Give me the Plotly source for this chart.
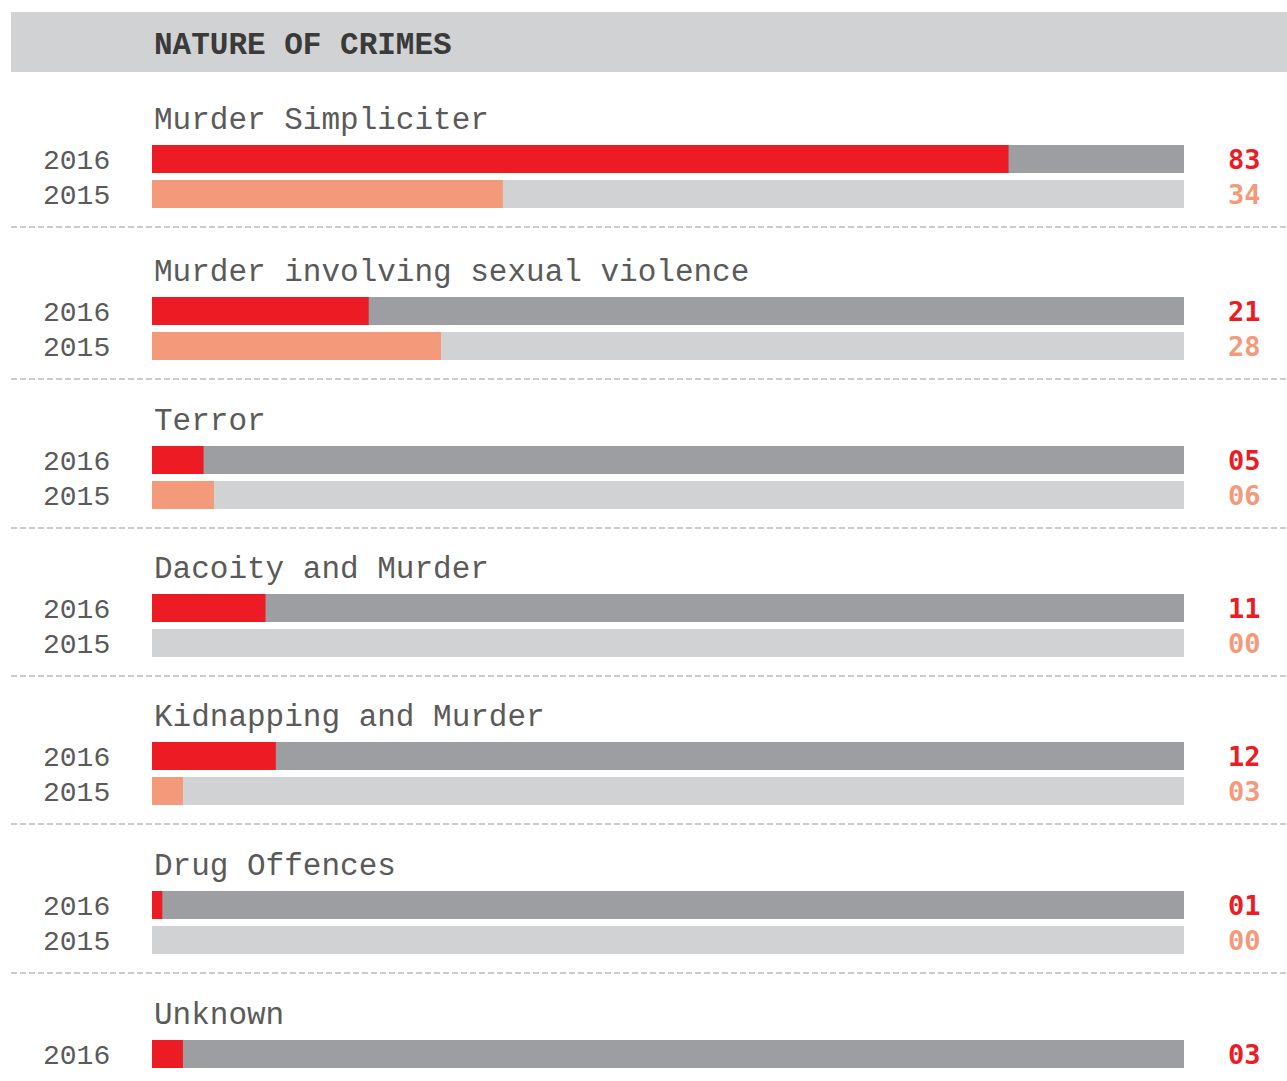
import plotly.graph_objects as go

categories = ["Murder Simpliciter", "Murder involving sexual violence", "Terror",
              "Dacoity and Murder", "Kidnapping and Murder", "Drug Offences", "Unknown"]
values_2016 = [83, 21, 5, 11, 12, 1, 3]
values_2015 = [34, 28, 6, 0, 3, 0, None]
year_labels = ["2016", "2015"]
title = "NATURE OF CRIMES"
scale_max = 100

# layout: pixel centre of each block's 2016 row
block_y = [159, 311, 460, 608, 756, 905, 1054]

W, H = 1287, 1081
X0, X1 = 152, 1184           # pixel extent of the 0..100 scale
px_per = (X1 - X0) / scale_max

RED = "#ed1c24"
SALMON = "#f4997a"
DARK = "#9d9ea2"
LIGHT = "#d1d2d4"
TXT = "#5a5a5a"
FONT = "Courier New, Liberation Mono, monospace"
NUMFONT = "DejaVu Sans Mono, monospace"
ROW_GAP = 35

fig = go.Figure()

bar_h = 28
ys_bg, xs_bg, cols_bg = [], [], []
ys_fg, xs_fg, cols_fg = [], [], []
for i, cat in enumerate(categories):
    for j, vals in enumerate([values_2016, values_2015]):
        v = vals[i]
        if v is None:
            continue
        y = block_y[i] + j * ROW_GAP
        ys_bg.append(y); xs_bg.append(scale_max); cols_bg.append(DARK if j == 0 else LIGHT)
        ys_fg.append(y); xs_fg.append(v); cols_fg.append(RED if j == 0 else SALMON)

fig.add_trace(go.Bar(x=xs_bg, y=ys_bg, orientation="h", width=bar_h,
                     marker=dict(color=cols_bg, line=dict(width=0)), hoverinfo="skip"))
fig.add_trace(go.Bar(x=xs_fg, y=ys_fg, orientation="h", width=bar_h,
                     marker=dict(color=cols_fg, line=dict(width=0)), hoverinfo="skip"))

shapes = []
annotations = []
# header band
shapes.append(dict(type="rect", xref="paper", yref="y", x0=11 / W, x1=1, y0=12, y1=72,
                   fillcolor=LIGHT, line=dict(width=0), layer="below"))
annotations.append(dict(text=f"<b>{title}</b>", xref="x", yref="y", x=0, y=45,
                        xanchor="left", yanchor="middle", showarrow=False,
                        font=dict(family=FONT, size=31, color="#3a3a3a")))

for i, cat in enumerate(categories):
    base = block_y[i]
    annotations.append(dict(text=cat, xref="x", yref="y", x=0, y=base - 39,
                            xanchor="left", yanchor="middle", showarrow=False,
                            font=dict(family=FONT, size=31, color=TXT)))
    for j, vals in enumerate([values_2016, values_2015]):
        v = vals[i]
        if v is None:
            continue
        y = base + j * ROW_GAP
        annotations.append(dict(text=year_labels[j], xref="paper", yref="y", x=41 / W, y=y + 2,
                                xanchor="left", yanchor="middle", showarrow=False,
                                font=dict(family=FONT, size=28, color=TXT)))
        annotations.append(dict(text=f"<b>{v:02d}</b>", xref="paper", yref="y", x=1244 / W, y=y,
                                xanchor="center", yanchor="middle", showarrow=False,
                                font=dict(family=NUMFONT, size=27,
                                          color=RED if j == 0 else SALMON)))
    if i < len(categories) - 1:
        shapes.append(dict(type="line", xref="paper", yref="y", x0=11 / W, x1=1,
                           y0=base + 68, y1=base + 68,
                           line=dict(color="#9a9a9a", width=1.2, dash="6px,3px")))

fig.update_layout(
    width=W, height=H,
    margin=dict(l=0, r=0, t=0, b=0),
    paper_bgcolor="white", plot_bgcolor="white",
    barmode="overlay", showlegend=False,
    xaxis=dict(range=[-X0 / px_per, (W - X0) / px_per], visible=False, fixedrange=True),
    yaxis=dict(range=[H, 0], visible=False, fixedrange=True),
    shapes=shapes, annotations=annotations,
)

fig.write_html("out.html", config={"displayModeBar": False})
